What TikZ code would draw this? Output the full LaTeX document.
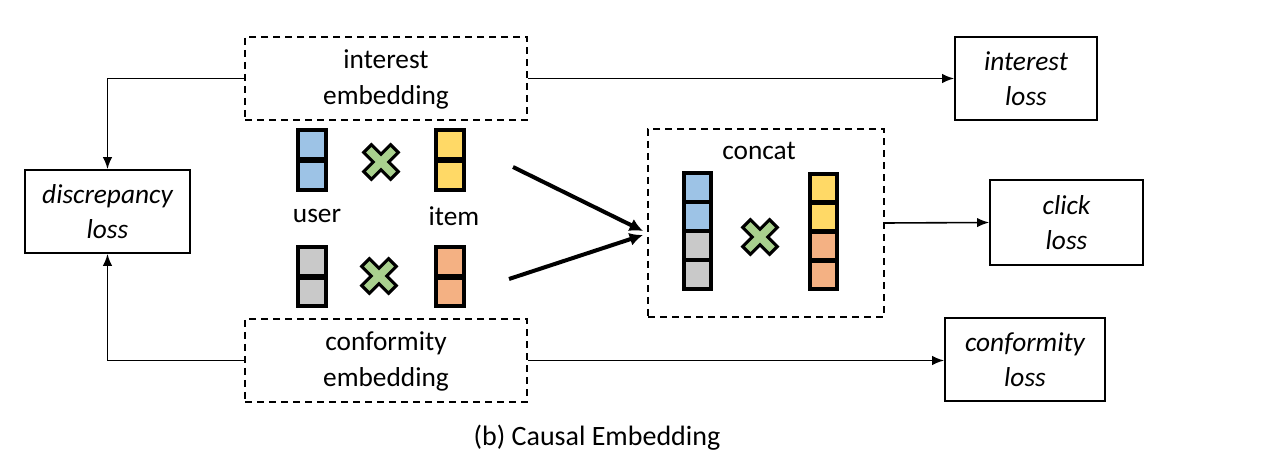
\documentclass[tikz,border=0pt]{standalone}
\usepackage{fontspec}
\setmainfont{Carlito}
\usetikzlibrary{arrows.meta}
\definecolor{cblue}{HTML}{9DC3E6}
\definecolor{cyellow}{HTML}{FFD966}
\definecolor{cgray}{HTML}{C9C9C9}
\definecolor{corange}{HTML}{F4B183}
\definecolor{cgreen}{HTML}{A9D18E}
\tikzset{
  txt/.style={font=\fontsize{20.5}{26.5}\selectfont, align=center, inner sep=0pt},
  dbox/.style={draw, line width=1.2pt, dash pattern=on 5.5pt off 3.5pt, inner sep=0pt},
  lbox/.style={draw, line width=1.2pt, inner sep=0pt, font=\fontsize{20.5}{26.5}\selectfont\itshape, align=center},
  cell/.style={draw, line width=3pt, minimum width=20.5pt, minimum height=21.5pt, inner sep=0pt},
  ccell/.style={draw, line width=3pt, minimum width=20pt, minimum height=21.7pt, inner sep=0pt},
  conn/.style={line width=1.2pt, -{Latex[length=9pt,width=7pt]}},
  thick arrow/.style={line width=3pt, -{Latex[length=10pt,width=10pt]}},
  crossx/.style={fill=cgreen, draw=black, line width=2.3pt, line join=miter},
}
\newcommand{\mycross}[2]{%
  \draw[crossx, shift={(#1,#2)}, rotate=45]
    (5.5,19)--(5.5,5.5)--(19,5.5)--(19,-5.5)--(5.5,-5.5)--(5.5,-19)--(-5.5,-19)--(-5.5,-5.5)--(-19,-5.5)--(-19,5.5)--(-5.5,5.5)--(-5.5,19)--cycle;}
\begin{document}
\begin{tikzpicture}[x=0.75pt,y=-0.75pt]
\useasboundingbox (0,0) rectangle (1264,466);
% dashed embedding boxes
\node[dbox, minimum width=211.5pt, minimum height=62.25pt] (ie) at (386,78.5) {};
\node[txt] (iet) at (386,79.5) {interest\\embedding};
\node[dbox, minimum width=211.5pt, minimum height=62.25pt] (ce) at (386,360.5) {};
\node[txt] (cet) at (386,361.5) {conformity\\embedding};
% loss boxes
\node[lbox, minimum width=123.75pt, minimum height=62.25pt] (dl) at (107.5,211.5) {discrepancy\\loss};
\node[lbox, minimum width=106.5pt, minimum height=62.25pt] (il) at (1026,78.5) {interest\\loss};
\node[lbox, minimum width=114.75pt, minimum height=63.75pt] (cl) at (1066.5,222.5) {click\\loss};
\node[lbox, minimum width=120pt, minimum height=62.25pt] (fl) at (1025,359.5) {conformity\\loss};
% concat box
\node[dbox, minimum width=177pt, minimum height=141pt] (cc) at (766,223) {};
\node[txt] (cct) at (759,151) {concat};
% user / item blocks
\node[cell, fill=cblue] (u1) at (312,144.5) {};
\node[cell, fill=cblue] (u2) at (312,175.5) {};
\node[cell, fill=cyellow] (i1) at (450,144.5) {};
\node[cell, fill=cyellow] (i2) at (450,175.5) {};
\node[cell, fill=cgray] (g1) at (312,261.5) {};
\node[cell, fill=cgray] (g2) at (312,292) {};
\node[cell, fill=corange] (o1) at (450,261.5) {};
\node[cell, fill=corange] (o2) at (450,292) {};
\node[txt] (ut) at (317,216) {user};
\node[txt] (it) at (454,216) {item};
\mycross{381}{162}
\mycross{379}{276}
% concat columns
\node[ccell, fill=cblue] (a1) at (697.5,187.5) {};
\node[ccell, fill=cblue] (a2) at (697.5,216.5) {};
\node[ccell, fill=cgray] (a3) at (697.5,245.5) {};
\node[ccell, fill=cgray] (a4) at (697.5,274.5) {};
\node[ccell, fill=cyellow] (b1) at (823.5,188) {};
\node[ccell, fill=cyellow] (b2) at (823.5,217) {};
\node[ccell, fill=corange] (b3) at (823.5,246) {};
\node[ccell, fill=corange] (b4) at (823.5,275) {};
\mycross{760}{237}
% connectors
\draw[conn] (ie.west) -| (dl.north);
\draw[conn] (ce.west) -| (dl.south);
\draw[conn] (ie.east) -- (il.west);
\draw[conn] (ce.east) -- (ce.east -| fl.west);
\draw[conn] (cc.east) -- (cl.west);
\coordinate (s1) at (513,167);
\coordinate (t1) at (643,231);
\coordinate (s2) at (509,279);
\coordinate (t2) at (643,235);
\draw[thick arrow] (s1) -- (t1);
\draw[thick arrow] (s2) -- (t2);
% caption
\node[font=\fontsize{21}{26}\selectfont, inner sep=0pt] (cap) at (597,438) {(b) Causal Embedding};
\end{tikzpicture}
\end{document}
